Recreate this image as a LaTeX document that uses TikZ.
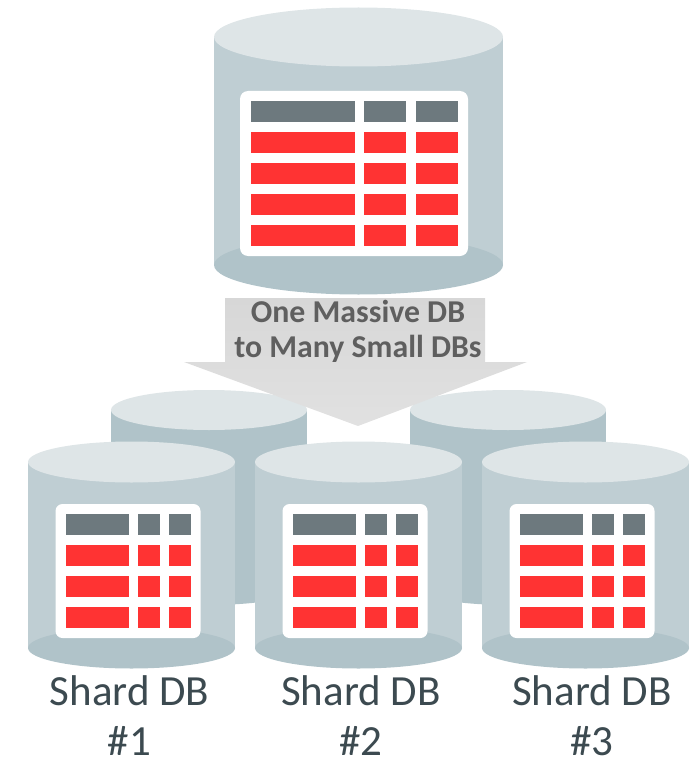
\documentclass[tikz,border=0pt]{standalone}
\usepackage{fontspec}
\setmainfont{Carlito}
\definecolor{cyltop}{HTML}{DEE5E7}
\definecolor{cylbody}{HTML}{BFCED3}
\definecolor{cylbase}{HTML}{B0C3C9}
\definecolor{cellhead}{HTML}{6D797E}
\definecolor{cellred}{HTML}{FF3333}
\definecolor{arrowtop}{HTML}{D7D7D7}
\definecolor{arrowtip}{HTML}{E1E1E1}
\definecolor{boldgrey}{HTML}{5F5F5F}
\definecolor{shardtext}{HTML}{3C4A50}
\tikzset{
  x=1pt,y=-1pt,
  panel/.style={fill=white,rounded corners=7pt},
  headcell/.style={fill=cellhead},
  redcell/.style={fill=cellred},
  arrowtitle/.style={text=boldgrey,font=\fontsize{31.8}{35}\selectfont\bfseries,align=center,inner sep=0pt},
  shardlabel/.style={text=shardtext,font=\fontsize{43}{50}\selectfont,align=center,inner sep=0pt},
}
% x-left, x-right, y-top centre, y-bottom centre, y radius, body colour
\newcommand{\dbcylinder}[6]{%
  \fill[#6] (#1,#3) rectangle (#2,#4);
  \fill[cylbase] ({(#1+#2)/2},#4) ellipse [x radius={(#2-#1)/2*1pt},y radius=#5pt];
  \fill[cyltop] ({(#1+#2)/2},#3) ellipse [x radius={(#2-#1)/2*1pt},y radius=#5pt];
}
\newcommand{\bigrow}[3]{%
  \fill[#3] (250.5,#1) rectangle (354.5,#2);
  \fill[#3] (364,#1) rectangle (406,#2);
  \fill[#3] (416,#1) rectangle (458,#2);
}
\newcommand{\smallrow}[4]{%
  \fill[#4] (#1+66,#2) rectangle (#1+128.5,#3);
  \fill[#4] (#1+138,#2) rectangle (#1+159.5,#3);
  \fill[#4] (#1+169,#2) rectangle (#1+191,#3);
}
\begin{document}
\begin{tikzpicture}
\useasboundingbox (0,0) rectangle (697,757);
% back cylinders
\dbcylinder{111}{307}{410}{585}{20}{cylbase}
\dbcylinder{410}{606}{410}{585}{20}{cylbase}
% large cylinder
\dbcylinder{214}{503}{37}{265}{29.5}{cylbody}
\fill[panel,rounded corners=8pt] (240,91) rectangle (468,256);
\bigrow{101}{122}{headcell}
\bigrow{132}{153}{redcell}
\bigrow{163}{184}{redcell}
\bigrow{194}{215}{redcell}
\bigrow{225}{246}{redcell}
% arrow
\path[top color=arrowtop,bottom color=arrowtip] (225,298) -- (485,298) -- (485,362) -- (527,362) -- (358,426) -- (184,362) -- (225,362) -- cycle;
% shard cylinders
\foreach \dx in {0,227,454}{
  \pgfmathsetmacro{\xa}{28+\dx}
  \pgfmathsetmacro{\xb}{235+\dx}
  \dbcylinder{\xa}{\xb}{462}{648}{20.5}{cylbody}
  \fill[panel] (55.5+\dx,504) rectangle (200.5+\dx,638);
  \smallrow{\dx}{514}{535}{headcell}
  \smallrow{\dx}{545}{566}{redcell}
  \smallrow{\dx}{576}{597}{redcell}
  \smallrow{\dx}{607}{628}{redcell}
}
% labels
\node[arrowtitle] (title) at (358,331.5) {One Massive DB\\to Many Small DBs};
\node[shardlabel] (shardone) at (129.5,716) {Shard DB\\\#1};
\node[shardlabel] (shardtwo) at (361,716) {Shard DB\\\#2};
\node[shardlabel] (shardthree) at (592,716) {Shard DB\\\#3};
\end{tikzpicture}
\end{document}
